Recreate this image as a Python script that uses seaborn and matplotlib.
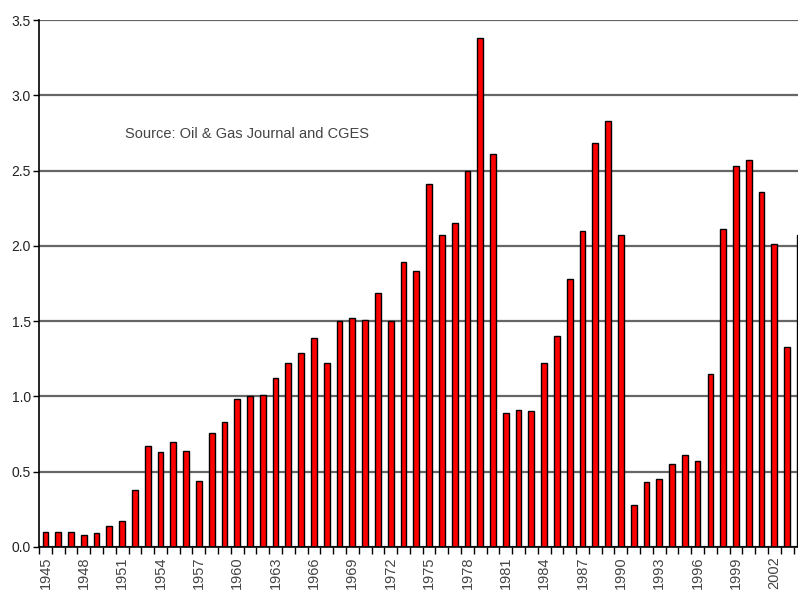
import numpy as np
import pandas as pd
import matplotlib
matplotlib.use("Agg")
import matplotlib.pyplot as plt
import seaborn as sns

# values (1945 - 2004)
years = list(range(1945, 2005))
values = [0.10, 0.10, 0.10, 0.08, 0.09, 0.14, 0.17, 0.38, 0.67, 0.63,
          0.70, 0.64, 0.44, 0.76, 0.83, 0.98, 1.00, 1.01, 1.12, 1.22,
          1.29, 1.39, 1.22, 1.50, 1.52, 1.51, 1.69, 1.50, 1.89, 1.83,
          2.41, 2.07, 2.15, 2.50, 3.38, 2.61, 0.89, 0.91, 0.90, 1.22,
          1.40, 1.78, 2.10, 2.68, 2.83, 2.07, 0.28, 0.43, 0.45, 0.55,
          0.61, 0.57, 1.15, 2.11, 2.53, 2.57, 2.36, 2.01, 1.33, 2.07]
y_ticks = [0.0, 0.5, 1.0, 1.5, 2.0, 2.5, 3.0, 3.5]
source_note = "Source: Oil & Gas Journal and CGES"

df = pd.DataFrame({"year": [str(y) for y in years], "value": values})

sns.set_style("white")
plt.rcParams['font.family'] = ['Liberation Sans', 'DejaVu Sans']

fig = plt.figure(figsize=(7.98, 5.95), dpi=100)
ax = fig.add_axes([39 / 798, 1 - 547 / 595, 1 - 39 / 798, (547 - 20) / 595])

for yv in y_ticks:
    ax.axhline(yv, color="#666666", lw=1.6, zorder=0)

sns.barplot(data=df, x="year", y="value", color="red", saturation=1,
            edgecolor="black", linewidth=1.0, width=0.45, ax=ax, zorder=2)

ax.set_yticks(y_ticks)
ax.set_yticklabels([f"{v:.1f}" for v in y_ticks], fontsize=10, color="#222222")

idx = list(range(0, len(years), 3))
ax.set_xticks(idx)
ax.set_xticklabels([str(years[i]) for i in idx], rotation=90, fontsize=10.5,
                   color="#444444")
ax.set_xticks(np.arange(-0.5, len(years), 1), minor=True)
ax.tick_params(axis="x", which="major", length=0, pad=7)
ax.tick_params(axis="x", which="minor", length=5, width=1, color="black",
               direction="out", bottom=True)
ax.tick_params(axis="y", length=4, width=1, color="black", direction="out",
               left=True, pad=2)

# limits after the ticks, so the tick lists do not widen the view
ax.set_xlim(-0.5, 58.85)
ax.set_ylim(0, 3.5)

ax.set_xlabel("")
ax.set_ylabel("")
for s in ["top", "right"]:
    ax.spines[s].set_visible(False)
ax.spines["left"].set_color("black")
ax.spines["left"].set_linewidth(1.2)
ax.spines["bottom"].set_color("black")
ax.spines["bottom"].set_linewidth(1.2)

ax.text(6.2, 2.74, source_note, fontsize=10.5, color="#444444", va="center")

fig.savefig("out.png", dpi=100)
